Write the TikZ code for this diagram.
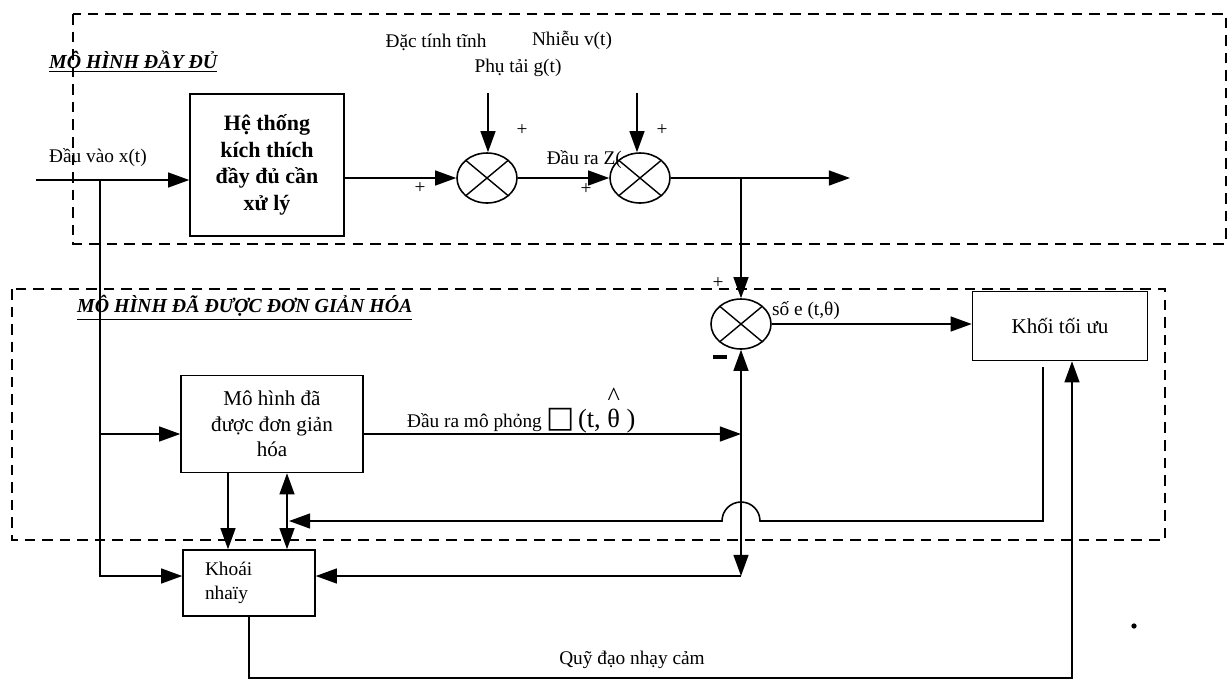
\documentclass[tikz,border=0pt]{standalone}
\usepackage{fontspec}
\setmainfont{Liberation Serif}
\newfontfamily\symfont{DejaVu Sans}
\usepackage{tikz}
\usetikzlibrary{calc,positioning,arrows.meta,shapes.geometric}

\begin{document}
\begin{tikzpicture}[
  x=0.02cm, y=-0.02cm,
  block/.style={rectangle, draw, line width=0.9pt, align=center, inner sep=2pt},
  sumnode/.style={ellipse, draw, line width=0.9pt, minimum width=1.2cm, minimum height=1.0cm, inner sep=0pt,
    path picture={\draw[line width=0.8pt] (path picture bounding box.north west) -- (path picture bounding box.south east)
      (path picture bounding box.south west) -- (path picture bounding box.north east);}},
  frame/.style={draw, dash pattern=on 6pt off 4pt, line width=0.9pt},
  arr/.style={-{Triangle[length=12pt,width=8.5pt]}, line width=0.9pt},
  arrboth/.style={{Triangle[length=12pt,width=8.5pt]}-{Triangle[length=12pt,width=8.5pt]}, line width=0.9pt},
  lbl/.style={font=\fontsize{11}{13}\selectfont, inner sep=1pt},
  title/.style={font=\fontsize{11.3}{13}\selectfont\bfseries\itshape, inner sep=1pt, anchor=west}
]
  \useasboundingbox (0,0) rectangle (1232,681);

  % hai khung nét đứt
  \draw[frame] (73,14) rectangle (1226,244);
  \draw[frame] (12,289) rectangle (1165,540);
  \node[title] (ttop) at (47,62) {\underline{MÔ HÌNH ĐẦY ĐỦ}};
  \node[title] (tbot) at (75,308) {\underline{MÔ HÌNH ĐÃ ĐƯỢC ĐƠN GIẢN HÓA}};

  % các khối
  \node[block, minimum width=3.08cm, minimum height=2.84cm, font=\fontsize{12.5}{15.2}\selectfont\bfseries] (sys) at (267,165)
    {Hệ thống\\kích thích\\đầy đủ cần\\xử lý};
  \node[block, minimum width=3.64cm, minimum height=1.94cm, font=\fontsize{12}{14.5}\selectfont] (simp) at (272,424)
    {Mô hình đã\\được đơn giản\\hóa};
  \node[block, minimum width=2.64cm, minimum height=1.32cm, text width=1.76cm, align=left,
    font=\fontsize{11}{14}\selectfont] (sens) at (249,583) {Khoái\\nhaïy};
  \node[block, minimum width=3.5cm, minimum height=1.38cm, font=\fontsize{12}{14}\selectfont] (opt) at (1060,326) {Khối tối ưu};

  % bộ cộng
  \node[sumnode] (s1) at (487,178) {};
  \node[sumnode] (s2) at (640,178) {};
  \node[sumnode] (s3) at (741,324) {};

  % điểm phụ
  \coordinate (xin) at (36,180);
  \coordinate (xbr) at (100,180);
  \coordinate (dist1) at (488,93);
  \coordinate (dist2) at (637,93);
  \coordinate (yout) at (850,178);
  \coordinate (ytap) at (741,178);
  \coordinate (ysim) at (741,434);
  \coordinate (ydn) at (741,576);
  \coordinate (fbtop) at (1043,367);
  \coordinate (fbend) at (289,521);
  \coordinate (cleft) at (228,0);
  \coordinate (cright) at (287,0);
  \coordinate (traj) at (1072,678);

  % nhãn
  \node[lbl, anchor=west] (lin) at (47,158) {Đầu vào x(t)};
  \node[lbl] (ldac) at (436,42) {Đặc tính tĩnh};
  \node[lbl] (lnoise) at (572,40) {Nhiễu v(t)};
  \node[lbl] (lload) at (518,68) {Phụ tải g(t)};
  \node[lbl, anchor=east] (lz) at (624,160) {Đầu ra Z(};
  \node[lbl] (p1) at (420,188) {+};
  \node[lbl] (p2) at (522,130) {+};
  \node[lbl] (p3) at (586,189) {+};
  \node[lbl] (p4) at (662,130) {+};
  \node[lbl] (p5) at (718,283) {+};
  \node[inner sep=0pt] (m5) at (720,357) {\rule{8pt}{1.8pt}};
  \node[lbl, anchor=west] (lerr) at (770,311) {số e (t,θ)};
  \node[lbl, anchor=base west] (lsim) at (405,427)
    {Đầu ra mô phỏng {\symfont\fontsize{17}{17}\selectfont □}\,{\fontsize{15}{15}\selectfont
      (t, \ooalign{θ\cr\hidewidth\raisebox{1.75ex}{\^{}}\hidewidth\cr} )}};
  \node[lbl] (ltraj) at (632,660) {Quỹ đạo nhạy cảm};

  % mũi tên
  \draw[arr] (xin) -- (xin -| sys.west);
  \draw[arr] (sys.east |- s1) -- (s1.west);
  \draw[arr] (s1.east) -- (s2.west);
  \draw[arr] (s2.east) -- (yout);
  \draw[arr] (dist1) -- (dist1 |- s1.north);
  \draw[arr] (dist2) -- (dist2 |- s2.north);
  \draw[arr] (ytap) -- (s3.north);
  \draw[arr] (s3.east) -- (s3.east -| opt.west);
  \draw[arr] (xbr) |- (ydn -| sens.west);
  \draw[arr] (xbr |- ysim) -- (ysim -| simp.west);
  \draw[arr] (ysim -| simp.east) -- (ysim);
  \draw[arr] (ysim) -- (s3.south);
  \draw[arr] (ysim) -- (ydn);
  \draw[arr] (ydn) -- (ydn -| sens.east);
  \draw[arr] (simp.south -| cleft) -- (sens.north -| cleft);
  \draw[arrboth] (sens.north -| cright) -- (simp.south -| cright);
  \draw[arr] (fbtop) -- (fbtop |- fbend) -- ($(ysim |- fbend)+(19,0)$)
    arc[start angle=0, end angle=180, radius=0.38cm] -- (fbend);
  \draw[arr] (sens.south) |- (traj) -- (traj |- opt.south);

  \fill (1134,626) circle (1.5pt);
\end{tikzpicture}
\end{document}
